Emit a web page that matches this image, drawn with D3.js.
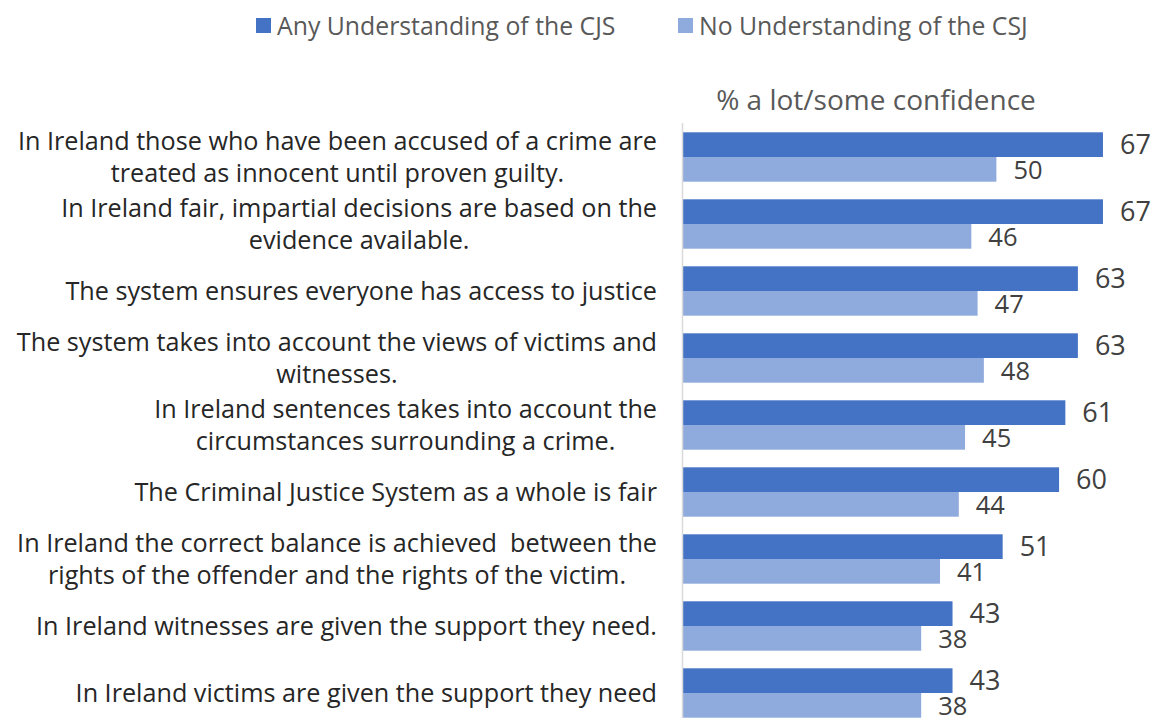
<!DOCTYPE html>
<html>
<head>
<meta charset="utf-8">
<script src="https://cdn.jsdelivr.net/npm/d3@7"></script>
<style>
  html, body { margin: 0; padding: 0; background: #fff; }
  svg { display: block; }
  text { font-family: "Open Sans", Lato, sans-serif; white-space: pre; }
</style>
</head>
<body>
<svg id="chart" width="1159" height="718"></svg>
<script>
// Statements, one array of lines each
const categories = [
  ["In Ireland those who have been accused of a crime are", "treated as innocent until proven guilty."],
  ["In Ireland fair, impartial decisions are based on the", "evidence available."],
  ["The system ensures everyone has access to justice"],
  ["The system takes into account the views of victims and", "witnesses."],
  ["In Ireland sentences takes into account the", "circumstances surrounding a crime."],
  ["The Criminal Justice System as a whole is fair"],
  ["In Ireland the correct balance is achieved  between the", "rights of the offender and the rights of the victim."],
  ["In Ireland witnesses are given the support they need."],
  ["In Ireland victims are given the support they need"]
];
const seriesNames = ["Any Understanding of the CJS", "No Understanding of the CSJ"];
const anyUnderstanding = [67, 67, 63, 63, 61, 60, 51, 43, 43];
const noUnderstanding = [50, 46, 47, 48, 45, 44, 41, 38, 38];
const axisTitle = "% a lot/some confidence";

const colors = ["#4472C4", "#8FAADC"];
const series = [anyUnderstanding, noUnderstanding];

const svg = d3.select("#chart");

const x = d3.scaleLinear().domain([0, 80]).range([683, 683 + 80 * 6.268]);
const y = d3.scaleBand()
  .domain(d3.range(categories.length))
  .range([123.5, 726.5])
  .paddingInner(0.263)
  .paddingOuter(0.1315);
const inner = d3.scaleBand().domain([0, 1]).range([0, y.bandwidth()]);

// Legend
const legendX = [256, 678];
const legend = svg.append("g");
seriesNames.forEach((name, i) => {
  legend.append("rect")
    .attr("x", legendX[i]).attr("y", 18)
    .attr("width", 15).attr("height", 15)
    .attr("fill", colors[i]);
  legend.append("text")
    .attr("x", legendX[i] + 21).attr("y", 26)
    .attr("dy", "0.36em")
    .attr("font-size", 24.8)
    .attr("fill", "#595959")
    .text(name);
});

// Axis title
svg.append("text")
  .attr("x", 876).attr("y", 100)
  .attr("dy", "0.36em")
  .attr("text-anchor", "middle")
  .attr("font-size", 28)
  .attr("fill", "#595959")
  .text(axisTitle);

// Bars and value labels
series.forEach((vals, s) => {
  svg.append("g").selectAll("rect")
    .data(vals)
    .join("rect")
    .attr("x", x(0))
    .attr("y", (d, i) => y(i) + inner(s))
    .attr("width", d => x(d) - x(0))
    .attr("height", inner.bandwidth())
    .attr("fill", colors[s]);

  svg.append("g").selectAll("text")
    .data(vals)
    .join("text")
    .attr("x", d => x(d) + 17)
    .attr("y", (d, i) => y(i) + inner(s) + inner.bandwidth() / 2)
    .attr("dy", "0.36em")
    .attr("font-size", s === 0 ? 27 : 25.5)
    .attr("fill", "#404040")
    .text(d => d);
});

// Vertical category axis line
svg.append("line")
  .attr("x1", x(0) - 0.5).attr("x2", x(0) - 0.5)
  .attr("y1", 123).attr("y2", 718)
  .attr("stroke", "#d9d9d9").attr("stroke-width", 1.5);

// Category labels: lines centred on each other, block right-aligned to the axis
const labelRight = 657;
const lineGap = 32;
categories.forEach((lines, i) => {
  const g = svg.append("g");
  const cy = y(i) + y.bandwidth() / 2;
  const texts = lines.map((t, k) => g.append("text")
    .attr("y", cy + (k - (lines.length - 1) / 2) * lineGap)
    .attr("dy", "0.37em")
    .attr("font-size", 25.2)
    .attr("fill", "#262626")
    .attr("text-anchor", "middle")
    .text(t));
  const w = d3.max(texts, t => t.node().getComputedTextLength());
  texts.forEach(t => t.attr("x", labelRight - w / 2));
});
</script>
</body>
</html>
